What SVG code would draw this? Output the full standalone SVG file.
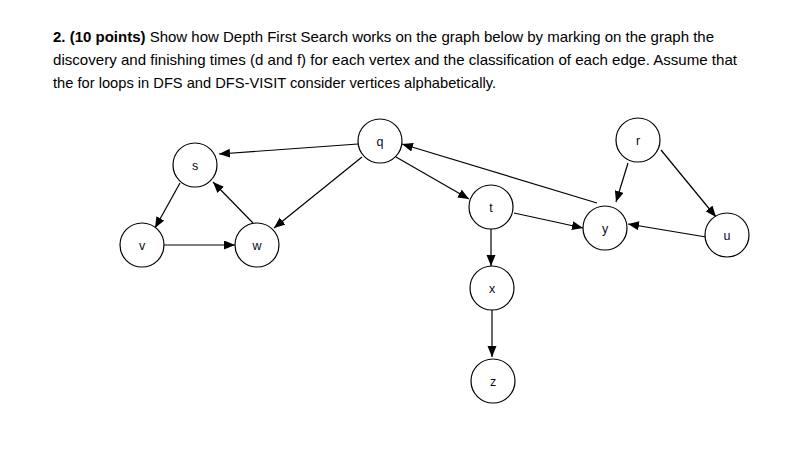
<svg xmlns="http://www.w3.org/2000/svg" width="807" height="461" viewBox="0 0 807 461">
<style>
.t{font-family:"Liberation Sans",Arial,sans-serif;font-size:15px;fill:#000}
.b{font-weight:bold}
.n circle{fill:#fff;stroke:#000;stroke-width:1.2}
.n text{font-family:"Liberation Sans",Arial,sans-serif;font-size:12.5px;fill:#0a0a1e;text-anchor:middle}
.e line{stroke:#000;stroke-width:1.2;marker-end:url(#ah)}
</style>
<defs>
<marker id="ah" markerUnits="userSpaceOnUse" markerWidth="12" markerHeight="10" refX="11" refY="4.5" orient="auto">
<path d="M0,0 L11,4.5 L0,9 z" fill="#000"/>
</marker>
</defs>
<rect width="807" height="461" fill="#fff"/>
<text class="t" x="53" y="42" textLength="661" lengthAdjust="spacingAndGlyphs"><tspan class="b">2. (10 points)</tspan> Show how Depth First Search works on the graph below by marking on the graph the</text>
<text class="t" x="53" y="65" textLength="684" lengthAdjust="spacingAndGlyphs">discovery and finishing times (d and f) for each vertex and the classification of each edge. Assume that</text>
<text class="t" x="53" y="88" textLength="443" lengthAdjust="spacingAndGlyphs">the for loops in DFS and DFS-VISIT consider vertices alphabetically.</text>
<g id="edges" class="e">
<line x1="358" y1="144" x2="219" y2="154"/>
<line x1="180" y1="183" x2="155" y2="228"/>
<line x1="253" y1="223" x2="213" y2="182"/>
<line x1="164" y1="245" x2="235" y2="245"/>
<line x1="362" y1="157" x2="274" y2="228"/>
<line x1="396" y1="157" x2="469" y2="199"/>
<line x1="597" y1="203" x2="402" y2="144"/>
<line x1="514" y1="213" x2="583" y2="228"/>
<line x1="628" y1="163" x2="616" y2="202"/>
<line x1="661" y1="150" x2="716" y2="217"/>
<line x1="706" y1="237" x2="628" y2="224"/>
<line x1="491" y1="229" x2="491" y2="266"/>
<line x1="492" y1="310" x2="492" y2="357"/>
</g>
<g id="s" class="n"><circle cx="195" cy="165" r="22"/><text x="195" y="170">s</text></g>
<g id="v" class="n"><circle cx="142" cy="245" r="22"/><text x="142" y="250">v</text></g>
<g id="w" class="n"><circle cx="257" cy="245" r="22"/><text x="257" y="250">w</text></g>
<g id="q" class="n"><circle cx="380" cy="141" r="22"/><text x="380" y="146">q</text></g>
<g id="t" class="n"><circle cx="491" cy="207" r="22"/><text x="491" y="212">t</text></g>
<g id="r" class="n"><circle cx="638" cy="140" r="22"/><text x="638" y="145">r</text></g>
<g id="y" class="n"><circle cx="605" cy="228" r="22"/><text x="605" y="233">y</text></g>
<g id="u" class="n"><circle cx="727" cy="235" r="22"/><text x="727" y="240">u</text></g>
<g id="x" class="n"><circle cx="492" cy="288" r="22"/><text x="492" y="293">x</text></g>
<g id="z" class="n"><circle cx="493" cy="381" r="22"/><text x="493" y="386">z</text></g>
</svg>
